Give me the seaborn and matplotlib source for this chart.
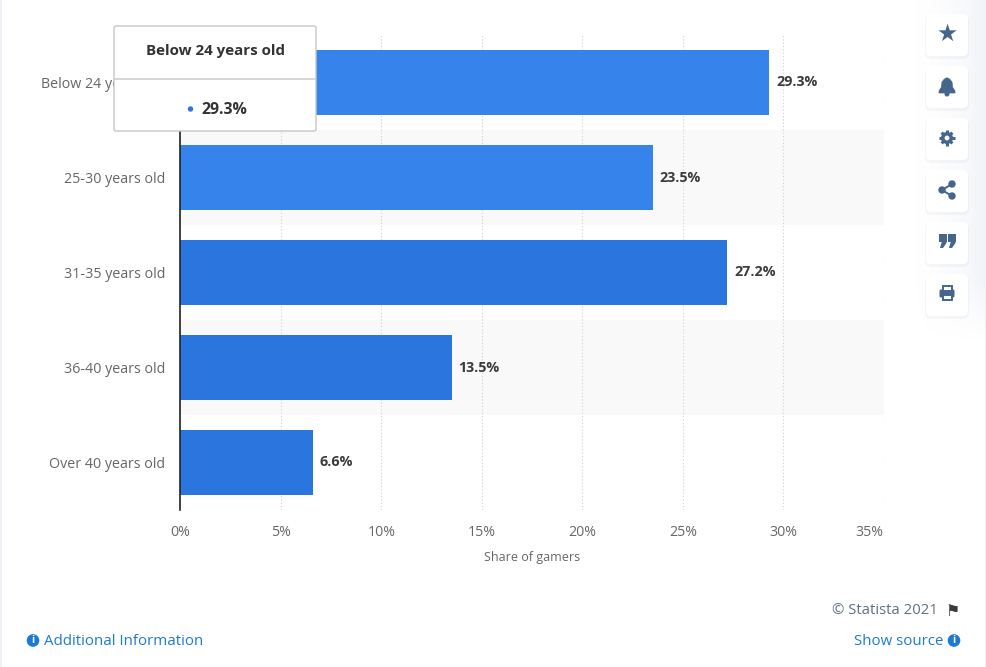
import matplotlib
matplotlib.use('Agg')

import numpy as np
import pandas as pd
import matplotlib.pyplot as plt
import seaborn as sns
from matplotlib.patches import FancyBboxPatch, Rectangle, Circle, Polygon

# =========================
# DATA
# =========================
age_groups = ['Below 24 years old', '25-30 years old', '31-35 years old',
              '36-40 years old', 'Over 40 years old']
share = [29.3, 23.5, 27.2, 13.5, 6.6]
bar_colors = ['#3783ec', '#3783ec', '#2a76de', '#2a76de', '#2a76de']
x_ticks = [0, 5, 10, 15, 20, 25, 30, 35]
x_labels = ['0%', '5%', '10%', '15%', '20%', '25%', '30%', '35%']

df = pd.DataFrame({'age': age_groups, 'share': share})

# =========================
# FIGURE
# =========================
sns.set_theme(style='white')
plt.rcParams['font.family'] = ['Open Sans', 'DejaVu Sans']

W, H = 987, 667
fig = plt.figure(figsize=(W / 100, H / 100), dpi=100, facecolor='white')
ax = fig.add_axes([180.3 / W, 1 - 510 / H, 703.5 / W, 475 / H])

# alternating bands behind the bars
for band in [1, 3]:
    ax.axhspan(band - 0.5, band + 0.5, color='#f9f9f9', lw=0, zorder=0)

sns.barplot(data=df, y='age', x='share', hue='age', palette=bar_colors,
            order=age_groups, hue_order=age_groups, width=0.684, saturation=1,
            legend=False, ax=ax, zorder=3, linewidth=0)

for c in ax.containers:
    ax.bar_label(c, fmt='%.1f%%', padding=5, fontsize=10.3, fontweight='bold',
                 color='#3b3b3b')

ax.set_xlim(0, 35)
ax.set_ylim(4.5, -0.5)
ax.set_xticks(x_ticks)
ax.set_xticklabels(x_labels, fontsize=10.2, color='#666666')
ax.get_xticklabels()[-1].set_ha('right')
ax.tick_params(axis='x', length=0, pad=10.5)
ax.tick_params(axis='y', length=0, pad=11, labelsize=10.3, labelcolor='#666666')
ax.set_ylabel('')
ax.set_xlabel('Share of gamers', fontsize=9, color='#666666')
ax.xaxis.set_label_coords(352 / 703.5, -41 / 475)
ax.grid(axis='x', color='#cfcfcf', linestyle=(0, (1, 2)), linewidth=0.8)
ax.set_axisbelow(True)

for side in ['top', 'right', 'bottom']:
    ax.spines[side].set_visible(False)
ax.spines['left'].set_color('#222222')
ax.spines['left'].set_linewidth(1.2)
ax.spines['left'].set_zorder(4)

# =========================
# PAGE OVERLAY (pixel coordinates)
# =========================
ov = fig.add_axes([0, 0, 1, 1], facecolor='none')
ov.axis('off')

# page edge strips
ov.add_patch(Rectangle((0, 0), 2, H, color='#eef0f6', lw=0))
ov.add_patch(Rectangle((985, 0), 2, H, color='#eef0f6', lw=0))

# soft shadow behind the tool buttons, fades out left and downwards
fade_x = np.linspace(0, 1, 80) ** 2
fade_y = np.clip((340 - np.linspace(0, 340, 170)) / 60, 0, 1)
shade = np.zeros((170, 80, 4))
shade[..., :3] = [0.80, 0.84, 0.90]
shade[..., 3] = 0.28 * np.outer(fade_y, fade_x)
ov.imshow(shade, extent=(905, 985, 340, 0), aspect='auto', zorder=1)
ov.set_xlim(0, W)
ov.set_ylim(H, 0)

# tooltip
ov.add_patch(FancyBboxPatch((114, 26), 202, 105, boxstyle='round,pad=0,rounding_size=2',
                            fc='white', ec='#c6c6c6', lw=1.0, zorder=5))
ov.plot([115, 315], [79, 79], color='#cccccc', lw=1.1, zorder=6)
ov.text(215, 51, 'Below 24 years old', ha='center', va='center', fontsize=10.9,
        fontweight='bold', color='#333333', zorder=6)
ov.add_patch(Circle((190.5, 109), 2, color='#2a76de', zorder=6))
ov.text(224.5, 110, '29.3%', ha='center', va='center', fontsize=11.4,
        fontweight='bold', color='#333333', zorder=6)

# tool buttons
icon = '#46658c'
button_y = [35, 87, 139, 191, 243, 295]
for by in button_y:
    ov.add_patch(FancyBboxPatch((925, by - 20), 44, 44, boxstyle='round,pad=0,rounding_size=6',
                                fc='#5a6a8a', ec='none', alpha=0.05, zorder=2))
    ov.add_patch(FancyBboxPatch((926, by - 21), 42, 42, boxstyle='round,pad=0,rounding_size=5',
                                fc='white', ec='none', zorder=3))

ov.text(947, 34, '\u2605', ha='center', va='center', fontsize=17, color=icon,
        family='DejaVu Sans', zorder=4)

# bell
ov.add_patch(Polygon([(939, 93), (955, 93), (955, 91), (952.5, 87), (952, 82), (950, 79.5),
                      (948, 78), (946, 78), (944, 79.5), (942, 82), (941.5, 87), (939, 91)],
                     fc=icon, ec=icon, lw=0.5, zorder=4))
ov.add_patch(Circle((947, 94), 1.8, color=icon, zorder=4))

# gear
for ang in np.arange(0, 180, 45):
    dx, dy = 7.6 * np.cos(np.radians(ang)), 7.6 * np.sin(np.radians(ang))
    ov.plot([947 - dx, 947 + dx], [138 - dy, 138 + dy], color=icon, lw=2.2, zorder=4,
            solid_capstyle='butt')
ov.add_patch(Circle((947, 138), 6, fc=icon, ec='none', zorder=4))
ov.add_patch(Circle((947, 138), 2.4, fc='white', ec='none', zorder=5))

# share
ov.plot([952, 942, 952], [184, 190, 196], color=icon, lw=1.4, zorder=4)
for sx, sy in [(952, 184), (942, 190), (952, 196)]:
    ov.add_patch(Circle((sx, sy), 3.0, color=icon, zorder=5))

# quotes
for qx in [943, 952]:
    ov.add_patch(Rectangle((qx - 4, 234), 7.5, 7.5, color=icon, lw=0, zorder=4))
    ov.add_patch(Polygon([(qx + 3.5, 240), (qx + 3.5, 243), (qx, 248), (qx - 3, 248), (qx - 1, 241)],
                         color=icon, lw=0, zorder=4))

# printer
ov.add_patch(FancyBboxPatch((939.5, 289.5), 15, 8, boxstyle='round,pad=0,rounding_size=1.5',
                            fc=icon, ec='none', zorder=4))
ov.add_patch(Rectangle((942.5, 286), 9, 5, fc='white', ec=icon, lw=1.4, zorder=5))
ov.add_patch(Rectangle((942.5, 295), 9, 5, fc='white', ec=icon, lw=1.4, zorder=5))

# footer
ov.text(938, 611, '\u00a9 Statista 2021', ha='right', va='center', fontsize=10.7,
        color='#5f6f86', zorder=4)
ov.text(953, 611, '\u2691', ha='center', va='center', fontsize=11.5, color='#3a3a3a',
        family='DejaVu Sans', zorder=4)
ov.text(44, 641.5, 'Additional Information', ha='left', va='center', fontsize=10.8,
        color='#1c7ad4', zorder=4)
ov.text(943, 641.5, 'Show source', ha='right', va='center', fontsize=10.8,
        color='#1c7ad4', zorder=4)
for ix in [33, 954]:
    ov.add_patch(Circle((ix, 640.5), 5.6, color='#1c7ad4', zorder=4))
    ov.text(ix, 640.5, 'i', ha='center', va='center', fontsize=7.5, fontweight='bold',
            color='white', zorder=5)

fig.savefig('out.png', dpi=100, facecolor='white')
